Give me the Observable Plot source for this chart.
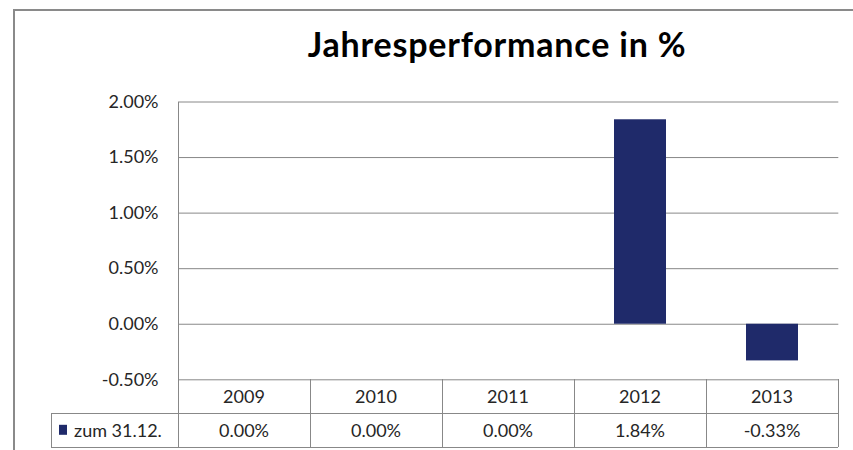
<!DOCTYPE html>
<html>
<head>
<meta charset="utf-8">
<script src="https://cdn.jsdelivr.net/npm/d3@7"></script>
<script src="https://cdn.jsdelivr.net/npm/@observablehq/plot@0.6"></script>
<style>
  html, body { margin: 0; padding: 0; background: #fff; }
  #wrap { position: relative; width: 853px; height: 450px; overflow: hidden; font-family: Lato, "Open Sans", sans-serif; }
  #frame { position: absolute; left: 13px; top: 9px; width: 900px; height: 500px; border-top: 2px solid #8a8a8a; border-left: 2px solid #8a8a8a; box-sizing: border-box; }
  #title { position: absolute; top: 27px; left: 497px; transform: translateX(-50%); white-space: nowrap; font-weight: 700; font-size: 34px; letter-spacing: 0.8px; line-height: 1; color: #000; }
  #chart { position: absolute; left: 0; top: 80px; }
</style>
</head>
<body>
<div id="wrap">
  <div id="frame"></div>
  <div id="title">Jahresperformance in %</div>
  <div id="chart"></div>
</div>
<script>
const years = ["2009", "2010", "2011", "2012", "2013"];
const values = [0.00, 0.00, 0.00, 1.84, -0.33];
const seriesName = "zum 31.12.";
const yTicks = [-0.5, 0, 0.5, 1, 1.5, 2];

const barColor = "#1f2a6a";
const lineColor = "#888888";
const textColor = "#262626";
const font = "Lato, 'Open Sans', sans-serif";

const data = years.map((y, i) => ({year: y, value: values[i]}));
const pct = d => (d < 0 ? "-" : "") + Math.abs(d).toFixed(2) + "%";

const W = 853, H = 370;
const plot = Plot.plot({
  width: W,
  height: H,
  marginLeft: 178,
  marginRight: 14.7,
  marginTop: 21.5,
  marginBottom: 70.7,
  style: {fontFamily: font, fontSize: "18px", color: textColor, background: "transparent"},
  x: {domain: years, paddingInner: 0.606, paddingOuter: 0.303, axis: null},
  y: {domain: [-0.5, 2], ticks: yTicks, tickFormat: pct, tickSize: 0, tickPadding: 20, label: null},
  marks: [
    Plot.gridY(yTicks, {stroke: lineColor, strokeOpacity: 1, strokeWidth: 1}),
    Plot.barY(data, {x: "year", y: "value", fill: barColor}),
    Plot.axisY({ticks: yTicks, tickFormat: pct, tickSize: 0, tickPadding: 20, fontSize: 18, fill: textColor, label: null})
  ]
});
document.getElementById("chart").appendChild(plot);

// Data table under the plot, positioned with Plot's own scales
const sx = plot.scale("x");
const sy = plot.scale("y");
const step = sx.step;
const left = sx.range[0];
const right = sx.range[1];
const yTop = sy.apply(sy.domain[0]);
const yMid = yTop + 34;
const yBot = yTop + 68;
const legendLeft = 51;
const plotTop = sy.apply(sy.domain[1]);

const svg = d3.select(plot);
const g = svg.append("g").attr("stroke", lineColor).attr("stroke-width", 1).attr("shape-rendering", "crispEdges");
g.append("line").attr("x1", left).attr("x2", left).attr("y1", plotTop).attr("y2", yBot);
g.append("line").attr("x1", legendLeft).attr("x2", right).attr("y1", yMid).attr("y2", yMid);
g.append("line").attr("x1", legendLeft).attr("x2", right).attr("y1", yBot).attr("y2", yBot);
g.append("line").attr("x1", legendLeft).attr("x2", legendLeft).attr("y1", yMid).attr("y2", yBot);
years.forEach((yr, i) => {
  const xr = left + step * (i + 1);
  g.append("line").attr("x1", xr).attr("x2", xr).attr("y1", yTop).attr("y2", yBot);
});

const t = svg.append("g").attr("font-family", font).attr("font-size", 18).attr("fill", textColor).attr("text-anchor", "middle");
data.forEach(d => {
  const cx = sx.apply(d.year) + sx.bandwidth / 2;
  t.append("text").attr("x", cx).attr("y", yTop + 17).attr("dy", "0.35em").text(d.year);
  t.append("text").attr("x", cx).attr("y", yMid + 17).attr("dy", "0.35em").text(pct(d.value));
});
svg.append("rect").attr("x", 59).attr("y", yMid + 11.5).attr("width", 8).attr("height", 10).attr("fill", barColor);
svg.append("text").attr("x", 74).attr("y", yMid + 17).attr("dy", "0.35em").attr("text-anchor", "start")
  .attr("font-family", font).attr("font-size", 18).attr("fill", textColor).text(seriesName);
</script>
</body>
</html>
